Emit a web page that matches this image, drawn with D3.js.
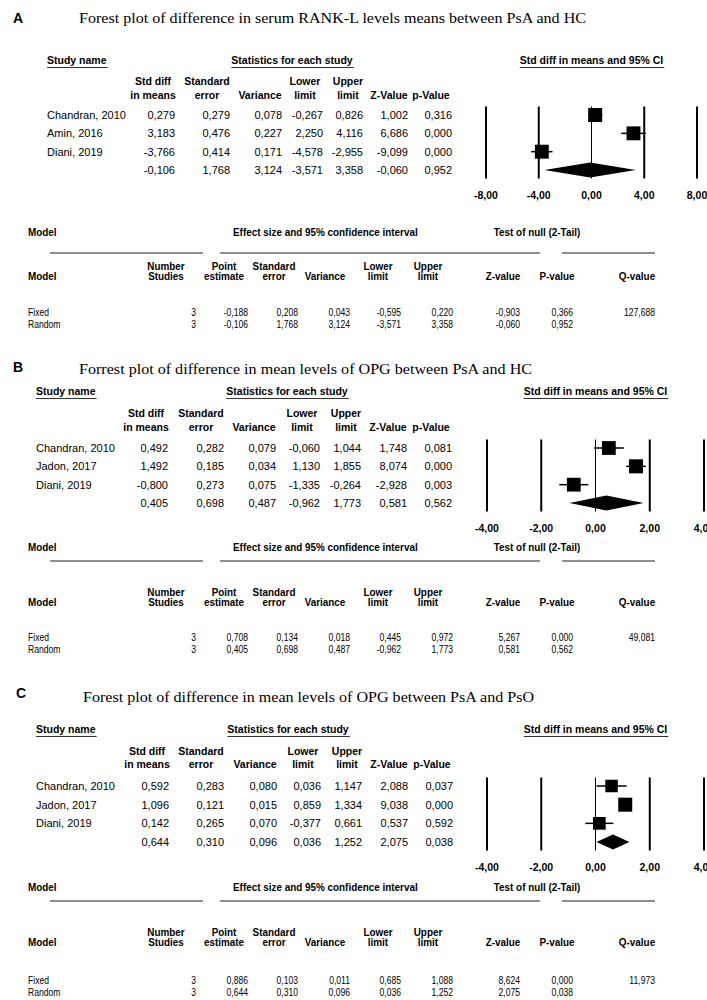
<!DOCTYPE html>
<html>
<head>
<meta charset="utf-8">
<script src="https://cdn.jsdelivr.net/npm/d3@7"></script>
<style>
  body { margin: 0; background: #fff; }
  svg { display: block; }
  text { font-family: "Liberation Sans", Arial, sans-serif; fill: #000; }
</style>
</head>
<body>
<svg id="chart" width="707" height="1000"></svg>
<script>
// ---- data ----
const panelLetters = ["A", "B", "C"];
const panelTitles = [
  "Forest plot of difference in serum RANK-L levels means between PsA and HC",
  "Forrest plot of difference in mean levels of OPG between PsA and HC",
  "Forest plot of difference in mean levels of OPG between PsA and PsO"
];

const studiesA = ["Chandran, 2010", "Amin, 2016", "Diani, 2019"];
const studiesB = ["Chandran, 2010", "Jadon, 2017", "Diani, 2019"];
const studiesC = ["Chandran, 2010", "Jadon, 2017", "Diani, 2019"];

// std diff, std error, variance, lower, upper, Z, p  (last row = pooled)
const statsA = [
  [0.279, 0.279, 0.078, -0.267, 0.826, 1.002, 0.316],
  [3.183, 0.476, 0.227, 2.250, 4.116, 6.686, 0.000],
  [-3.766, 0.414, 0.171, -4.578, -2.955, -9.099, 0.000],
  [-0.106, 1.768, 3.124, -3.571, 3.358, -0.060, 0.952]
];
const statsB = [
  [0.492, 0.282, 0.079, -0.060, 1.044, 1.748, 0.081],
  [1.492, 0.185, 0.034, 1.130, 1.855, 8.074, 0.000],
  [-0.800, 0.273, 0.075, -1.335, -0.264, -2.928, 0.003],
  [0.405, 0.698, 0.487, -0.962, 1.773, 0.581, 0.562]
];
const statsC = [
  [0.592, 0.283, 0.080, 0.036, 1.147, 2.088, 0.037],
  [1.096, 0.121, 0.015, 0.859, 1.334, 9.038, 0.000],
  [0.142, 0.265, 0.070, -0.377, 0.661, 0.537, 0.592],
  [0.644, 0.310, 0.096, 0.036, 1.252, 2.075, 0.038]
];

const modelNames = ["Fixed", "Random"];
// number studies, point, se, variance, lower, upper, Z, P, Q
const modelsA = [
  [3, -0.188, 0.208, 0.043, -0.595, 0.220, -0.903, 0.366, 127.688],
  [3, -0.106, 1.768, 3.124, -3.571, 3.358, -0.060, 0.952, null]
];
const modelsB = [
  [3, 0.708, 0.134, 0.018, 0.445, 0.972, 5.267, 0.000, 49.081],
  [3, 0.405, 0.698, 0.487, -0.962, 1.773, 0.581, 0.562, null]
];
const modelsC = [
  [3, 0.886, 0.103, 0.011, 0.685, 1.088, 8.624, 0.000, 11.973],
  [3, 0.644, 0.310, 0.096, 0.036, 1.252, 2.075, 0.038, null]
];

const ticksA = [-8, -4, 0, 4, 8];
const ticksB = [-4, -2, 0, 2, 4];
const ticksC = [-4, -2, 0, 2, 4];

const statHeaders = [["Std diff", "in means"], ["Standard", "error"], ["", "Variance"],
  ["Lower", "limit"], ["Upper", "limit"], ["", "Z-Value"], ["", "p-Value"]];
const modelHeaders = [["Number", "Studies"], ["Point", "estimate"], ["Standard", "error"],
  ["", "Variance"], ["Lower", "limit"], ["Upper", "limit"], ["", "Z-value"], ["", "P-value"], ["", "Q-value"]];

// ---- layout ----
const statHeadOffset = [22, 23, 22, 18, 15, 19, 21];
const modelHeadX = [166, 224, 274, 325, 378, 428, 503, 557, 637];
const modelRight = [196, 248, 298, 350, 401, 453, 520, 573, 655];
const modelRules = [[50, 203], [220, 540], [562, 655]];

const layouts = [
  { letterX: 13, letterY: 22.7, titleX: 79, titleY: 23.3, titleLen: 507,
    headY: 64, statsX: 292, hdrY: [85, 99], rowY: [115, 170], nameX: 47,
    colRight: [175, 230, 282, 323, 363, 408, 452],
    domain: [-8, 8], xRange: [486, 697],
    capY: 236, ruleY: 253, mHdrY: [270, 280], mRowY: [316, 327.5] },
  { letterX: 13, letterY: 371.7, titleX: 79, titleY: 373.7, titleLen: 453,
    headY: 395, statsX: 287, hdrY: [417, 431], rowY: [448, 503], nameX: 36,
    colRight: [168, 224, 276, 320, 361, 407, 452],
    domain: [-4, 4], xRange: [487, 704],
    capY: 551, ruleY: 561, mHdrY: [596, 606], mRowY: [641, 652.5] },
  { letterX: 16, letterY: 697.7, titleX: 83, titleY: 701.7, titleLen: 451,
    headY: 733, statsX: 288, hdrY: [755, 768], rowY: [786, 842], nameX: 36,
    colRight: [169, 224, 277, 321, 362, 408, 453],
    domain: [-4, 4], xRange: [487, 704],
    capY: 891, ruleY: 901, mHdrY: [936, 946], mRowY: [984, 995.5] }
];

const locale = d3.formatLocale({ decimal: ",", thousands: ".", grouping: [3], currency: ["", ""], minus: "-" });
const f3 = locale.format(".3f");
const f2 = locale.format(".2f");

const svg = d3.select("#chart");

// condensed text, used for the lower (model) table
function ctext(g, x, y, str, anchor, bold) {
  return g.append("text")
    .attr("transform", `translate(${x},${y}) scale(${bold ? 0.9 : 0.86},1)`)
    .attr("text-anchor", anchor)
    .attr("font-size", bold ? 11 : 10)
    .attr("font-weight", bold ? "bold" : null)
    .text(str);
}

function drawPanel(i, studies, stats, models, ticks) {
  const p = layouts[i];
  const g = svg.append("g");

  g.append("text").attr("x", p.letterX).attr("y", p.letterY)
    .attr("font-size", 14).attr("font-weight", "bold").text(panelLetters[i]);
  g.append("text").attr("x", p.titleX).attr("y", p.titleY)
    .style("font-family", '"Liberation Serif", "Times New Roman", serif')
    .attr("font-size", 15)
    .attr("textLength", p.titleLen).attr("lengthAdjust", "spacingAndGlyphs")
    .text(panelTitles[i]);

  const x = d3.scaleLinear().domain(p.domain).range(p.xRange);
  const y = d3.scaleLinear().domain([0, stats.length - 1]).range(p.rowY);
  const forestMid = (p.xRange[0] + p.xRange[1]) / 2;

  // underlined section headers
  const heads = [
    { t: "Study name", x: p.nameX, a: "start" },
    { t: "Statistics for each study", x: p.statsX, a: "middle" },
    { t: "Std diff in means and 95% CI", x: forestMid, a: "middle" }
  ];
  heads.forEach(h => {
    const t = g.append("text").attr("x", h.x).attr("y", p.headY)
      .attr("text-anchor", h.a).attr("font-size", 10.5).attr("font-weight", "bold").text(h.t);
    const b = t.node().getBBox();
    g.append("line").attr("x1", b.x).attr("x2", b.x + b.width + 1)
      .attr("y1", p.headY + 3.5).attr("y2", p.headY + 3.5)
      .attr("stroke", "#333").attr("stroke-width", 1);
  });

  // column headers
  statHeaders.forEach((lines, j) => {
    lines.forEach((s, k) => {
      if (!s) return;
      g.append("text").attr("x", p.colRight[j] - statHeadOffset[j]).attr("y", p.hdrY[k])
        .attr("text-anchor", "middle").attr("font-size", 10.5).attr("font-weight", "bold").text(s);
    });
  });

  // study rows
  stats.forEach((row, r) => {
    if (r < studies.length) {
      g.append("text").attr("x", p.nameX).attr("y", y(r) + 4).attr("font-size", 11).text(studies[r]);
    }
    row.forEach((v, j) => {
      g.append("text").attr("x", p.colRight[j]).attr("y", y(r) + 4)
        .attr("text-anchor", "end").attr("font-size", 11).text(f3(v));
    });
  });

  // forest plot
  const top = y(0) - 8.5, bottom = y(stats.length - 1) + 8.5;
  g.selectAll(".vline").data(ticks).join("line")
    .attr("x1", d => x(d)).attr("x2", d => x(d))
    .attr("y1", top).attr("y2", bottom)
    .attr("stroke", "#000").attr("stroke-width", d => d === 0 ? 1 : 2);
  g.selectAll(".tlab").data(ticks).join("text")
    .attr("x", d => x(d)).attr("y", bottom + 20)
    .attr("text-anchor", "middle").attr("font-size", 10.5).attr("font-weight", "bold")
    .text(d => f2(d));

  // box size from random-effects weights (DerSimonian-Laird tau^2 from Q)
  const studyRows = stats.slice(0, studies.length);
  const wFixed = studyRows.map(r => 1 / r[2]);
  const sw = d3.sum(wFixed), sw2 = d3.sum(wFixed, w => w * w);
  const q = models[0][8];
  const tau2 = Math.max(0, (q - (studyRows.length - 1)) / (sw - sw2 / sw));
  const wRand = studyRows.map(r => 1 / (r[2] + tau2));
  const side = d3.scaleSqrt().domain([0, d3.max(wRand)]).range([0, 14]);

  g.selectAll(".ci").data(studyRows).join("line")
    .attr("x1", d => x(d[3])).attr("x2", d => x(d[4]))
    .attr("y1", (d, r) => y(r)).attr("y2", (d, r) => y(r))
    .attr("stroke", "#000").attr("stroke-width", 1.5);
  g.selectAll(".box").data(studyRows).join("rect")
    .attr("x", (d, r) => x(d[0]) - side(wRand[r]) / 2)
    .attr("y", (d, r) => y(r) - side(wRand[r]) / 2)
    .attr("width", (d, r) => side(wRand[r]))
    .attr("height", (d, r) => side(wRand[r]))
    .attr("fill", "#000");

  const pooled = stats[stats.length - 1];
  const yc = y(stats.length - 1), hh = 7.5;
  g.append("path")
    .attr("d", d3.line()([[x(pooled[3]), yc], [x(pooled[0]), yc - hh], [x(pooled[4]), yc], [x(pooled[0]), yc + hh]]) + "Z")
    .attr("fill", "#000");

  // model table
  ctext(g, 28, p.capY, "Model", "start", true);
  ctext(g, 233, p.capY, "Effect size and 95% confidence interval", "start", true);
  ctext(g, 537, p.capY, "Test of null (2-Tail)", "middle", true);
  modelRules.forEach(rr => {
    g.append("line").attr("x1", rr[0]).attr("x2", rr[1])
      .attr("y1", p.ruleY).attr("y2", p.ruleY)
      .attr("stroke", "#222").attr("stroke-width", 1.2);
  });
  ctext(g, 28, p.mHdrY[1], "Model", "start", true);
  modelHeaders.forEach((lines, j) => {
    lines.forEach((s, k) => {
      if (s) ctext(g, modelHeadX[j], p.mHdrY[k], s, "middle", true);
    });
  });
  models.forEach((row, r) => {
    ctext(g, 28, p.mRowY[r], modelNames[r], "start", false);
    row.forEach((v, j) => {
      if (v === null) return;
      ctext(g, modelRight[j], p.mRowY[r], j === 0 ? String(v) : f3(v), "end", false);
    });
  });
}

drawPanel(0, studiesA, statsA, modelsA, ticksA);
drawPanel(1, studiesB, statsB, modelsB, ticksB);
drawPanel(2, studiesC, statsC, modelsC, ticksC);
</script>
</body>
</html>
